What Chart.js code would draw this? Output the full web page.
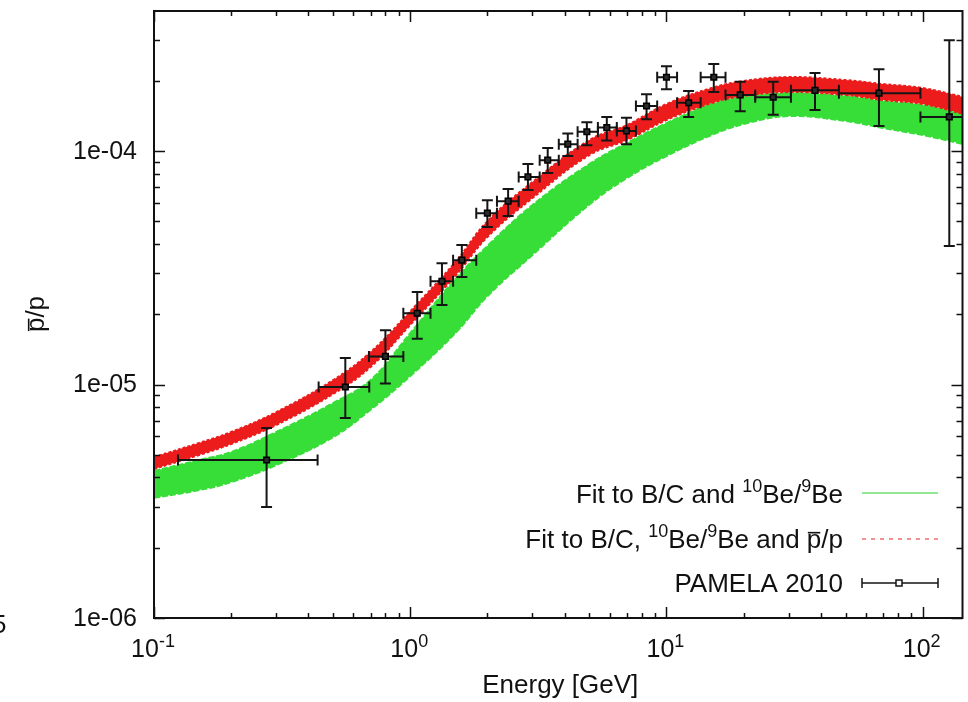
<!DOCTYPE html>
<html>
<head>
<meta charset="utf-8">
<script src="https://cdn.jsdelivr.net/npm/chart.js@4.4.1/dist/chart.umd.min.js"></script>
<style>
  html, body { margin: 0; padding: 0; background: #fff; }
  #wrap { width: 968px; height: 702px; }
</style>
</head>
<body>
<div id="wrap"><canvas id="pbarChart" width="968" height="702"></canvas></div>
<script>
// model bands (edges)
const bandEnergy = [0.1, 0.15, 0.2, 0.3, 0.5, 0.7, 1, 1.5, 2, 3, 5, 7, 10, 15, 20, 30, 50, 70, 100, 150];
const greenHi = [4.26e-6, 4.75e-6, 5.14e-6, 6.26e-6, 8.33e-6, 1.045e-5, 1.66e-5, 2.83e-5, 3.92e-5, 5.87e-5, 8.8e-5, 1.082e-4, 1.318e-4, 1.590e-4, 1.703e-4, 1.772e-4, 1.720e-4, 1.637e-4, 1.574e-4, 1.426e-4];
const greenLo = [3.27e-6, 3.53e-6, 3.82e-6, 4.52e-6, 5.95e-6, 7.8e-6, 1.087e-5, 1.66e-5, 2.39e-5, 3.59e-5, 5.9e-5, 7.66e-5, 9.52e-5, 1.171e-4, 1.305e-4, 1.412e-4, 1.345e-4, 1.255e-4, 1.171e-4, 1.061e-4];
const redHi = [4.89e-6, 5.62e-6, 6.26e-6, 7.62e-6, 1.045e-5, 1.377e-5, 2.06e-5, 3.35e-5, 5.01e-5, 7.37e-5, 1.114e-4, 1.292e-4, 1.590e-4, 1.862e-4, 1.995e-4, 2.075e-4, 2.014e-4, 1.936e-4, 1.862e-4, 1.687e-4];
const redLo = [4.35e-6, 4.99e-6, 5.56e-6, 6.71e-6, 9.11e-6, 1.188e-5, 1.80e-5, 2.92e-5, 4.28e-5, 6.29e-5, 9.61e-5, 1.114e-4, 1.358e-4, 1.605e-4, 1.720e-4, 1.789e-4, 1.737e-4, 1.653e-4, 1.590e-4, 1.426e-4];

// PAMELA 2010 points
const pamelaEnergy = [0.275, 0.558, 0.80, 1.065, 1.33, 1.59, 2.00, 2.41, 2.88, 3.44, 4.12, 4.89, 5.85, 6.98, 8.36, 10.0, 12.2, 15.3, 19.4, 26.1, 38.0, 67.5, 127];
const pamelaEnergyLo = [0.124, 0.439, 0.69, 0.94, 1.20, 1.47, 1.81, 2.18, 2.65, 3.2, 3.8, 4.5, 5.4, 6.4, 7.6, 9.2, 11.0, 13.6, 17.0, 22.2, 30.6, 47.1, 98];
const pamelaEnergyHi = [0.435, 0.692, 0.94, 1.20, 1.47, 1.81, 2.18, 2.65, 3.2, 3.8, 4.5, 5.4, 6.4, 7.6, 9.2, 11.0, 13.6, 17.0, 22.2, 30.6, 47.1, 98, 180];
const pamelaRatio = [4.75e-6, 9.76e-6, 1.32e-5, 2.02e-5, 2.77e-5, 3.41e-5, 5.42e-5, 6.10e-5, 7.75e-5, 9.14e-5, 1.07e-4, 1.21e-4, 1.26e-4, 1.22e-4, 1.56e-4, 2.07e-4, 1.61e-4, 2.07e-4, 1.74e-4, 1.70e-4, 1.82e-4, 1.77e-4, 1.40e-4];
const pamelaRatioLo = [2.99e-6, 7.19e-6, 1.01e-5, 1.57e-5, 2.19e-5, 2.89e-5, 4.73e-5, 5.27e-5, 6.81e-5, 8.05e-5, 9.53e-5, 1.06e-4, 1.11e-4, 1.07e-4, 1.37e-4, 1.84e-4, 1.40e-4, 1.79e-4, 1.48e-4, 1.43e-4, 1.50e-4, 1.28e-4, 3.92e-5];
const pamelaRatioHi = [6.52e-6, 1.30e-5, 1.71e-5, 2.49e-5, 3.31e-5, 3.96e-5, 6.16e-5, 6.88e-5, 8.80e-5, 1.03e-4, 1.19e-4, 1.33e-4, 1.40e-4, 1.39e-4, 1.75e-4, 2.31e-4, 1.81e-4, 2.36e-4, 1.98e-4, 1.98e-4, 2.16e-4, 2.24e-4, 2.98e-4];

// axis labels
const xTickValues = [0.1, 1, 10, 100];
const xTickExponents = ["-1", "0", "1", "2"];
const yTickValues = [1e-6, 1e-5, 1e-4];
const yTickLabels = ["1e-06", "1e-05", "1e-04"];

const GREEN = "rgb(55, 222, 55)";
const RED = "rgb(236, 28, 28)";
const FONT = '"Liberation Sans", Arial, Helvetica, sans-serif';

const toPoints = (xs, ys) => xs.map((e, i) => ({ x: e, y: ys[i] }));

// draw a string made of parts, some raised or with a bar over them
function richWidth(ctx, parts, size) {
  let w = 0;
  parts.forEach(p => {
    ctx.font = (p.sup ? Math.round(size * 0.7) : size) + "px " + FONT;
    w += ctx.measureText(p.t).width;
  });
  return w;
}
function drawRich(ctx, parts, x, y, size, align) {
  const w = richWidth(ctx, parts, size);
  let cx = align === "right" ? x - w : align === "center" ? x - w / 2 : x;
  ctx.textAlign = "left";
  ctx.textBaseline = "alphabetic";
  parts.forEach(p => {
    const s = p.sup ? Math.round(size * 0.7) : size;
    ctx.font = s + "px " + FONT;
    const dy = p.sup ? -size * 0.42 : 0;
    ctx.fillText(p.t, cx, y + dy);
    const tw = ctx.measureText(p.t).width;
    if (p.bar) {
      ctx.fillRect(cx + 1, y - size * 0.62, tw - 2, 1.6);
    }
    cx += tw;
  });
}

const errorBars = {
  id: "errorBars",
  beforeDatasetDraw(chart, args) {
    if (chart.data.datasets[args.index].label !== "PAMELA 2010") return;
    const { ctx, chartArea: a, scales: { x, y } } = chart;
    ctx.save();
    ctx.beginPath();
    ctx.rect(a.left, a.top, a.right - a.left, a.bottom - a.top);
    ctx.clip();
    ctx.strokeStyle = "#151515";
    ctx.lineWidth = 2;
    const cap = 5.5;
    pamelaEnergy.forEach((e, i) => {
      const px = x.getPixelForValue(e);
      const py = y.getPixelForValue(pamelaRatio[i]);
      const x0 = x.getPixelForValue(pamelaEnergyLo[i]);
      const x1 = x.getPixelForValue(pamelaEnergyHi[i]);
      const y0 = y.getPixelForValue(pamelaRatioLo[i]);
      const y1 = y.getPixelForValue(pamelaRatioHi[i]);
      ctx.beginPath();
      ctx.moveTo(x0, py); ctx.lineTo(x1, py);
      ctx.moveTo(x0, py - cap); ctx.lineTo(x0, py + cap);
      ctx.moveTo(x1, py - cap); ctx.lineTo(x1, py + cap);
      ctx.moveTo(px, y0); ctx.lineTo(px, y1);
      ctx.moveTo(px - cap, y0); ctx.lineTo(px + cap, y0);
      ctx.moveTo(px - cap, y1); ctx.lineTo(px + cap, y1);
      ctx.stroke();
    });
    ctx.restore();
  }
};

const frameAndText = {
  id: "frameAndText",
  afterDraw(chart) {
    const { ctx, chartArea: a, scales: { x, y } } = chart;
    ctx.save();
    ctx.strokeStyle = "#111";
    ctx.fillStyle = "#111";

    // ticks on all four sides, pointing in
    ctx.lineWidth = 1.5;
    ctx.beginPath();
    for (let d = -1; d <= 2; d++) {
      for (let m = 1; m <= 9; m++) {
        const v = m * Math.pow(10, d);
        if (v < x.min || v > x.max) continue;
        const px = Math.round(x.getPixelForValue(v)) + 0.5;
        const len = m === 1 ? 11 : 5;
        ctx.moveTo(px, a.bottom); ctx.lineTo(px, a.bottom - len);
        ctx.moveTo(px, a.top); ctx.lineTo(px, a.top + len);
      }
    }
    for (let d = -6; d <= -4; d++) {
      for (let m = 1; m <= 9; m++) {
        const v = m * Math.pow(10, d);
        if (v < y.min || v > y.max) continue;
        const py = Math.round(y.getPixelForValue(v)) + 0.5;
        const len = m === 1 ? 11 : 6;
        ctx.moveTo(a.left, py); ctx.lineTo(a.left + len, py);
        ctx.moveTo(a.right, py); ctx.lineTo(a.right - len, py);
      }
    }
    ctx.stroke();

    ctx.lineWidth = 2;
    ctx.strokeRect(a.left, a.top, a.right - a.left, a.bottom - a.top);

    // tick labels
    ctx.font = "25px " + FONT;
    ctx.textAlign = "right";
    ctx.textBaseline = "middle";
    yTickValues.forEach((v, i) => {
      ctx.fillText(yTickLabels[i], a.left - 17, y.getPixelForValue(v) + 1);
    });
    xTickValues.forEach((v, i) => {
      drawRich(ctx, [{ t: "10" }, { t: xTickExponents[i], sup: true }], x.getPixelForValue(v) - 1, 657, 25, "center");
    });

    // axis titles
    ctx.font = "26px " + FONT;
    drawRich(ctx, [{ t: "Energy [GeV]" }], (a.left + a.right) / 2 + 2, 693, 26, "center");
    ctx.save();
    ctx.translate(44, 314);
    ctx.rotate(-Math.PI / 2);
    drawRich(ctx, [{ t: "p", bar: true }, { t: "/p" }], 0, 0, 26, "center");
    ctx.restore();

    // cut-off character from the neighbouring figure
    ctx.font = "26px " + FONT;
    ctx.textAlign = "left";
    ctx.textBaseline = "alphabetic";
    ctx.fillText("5", -8, 633);

    // legend
    const rows = [
      { parts: [{ t: "Fit to B/C and " }, { t: "10", sup: true }, { t: "Be/" }, { t: "9", sup: true }, { t: "Be" }], base: 503, line: 493 },
      { parts: [{ t: "Fit to B/C, " }, { t: "10", sup: true }, { t: "Be/" }, { t: "9", sup: true }, { t: "Be and " }, { t: "p", bar: true }, { t: "/p" }], base: 548, line: 539 },
      { parts: [{ t: "PAMELA 2010" }], base: 592, line: 583 }
    ];
    rows.forEach(r => drawRich(ctx, r.parts, 843, r.base, 26, "right"));

    const lx0 = 862, lx1 = 938;
    ctx.lineWidth = 1.5;
    ctx.strokeStyle = "rgb(110, 225, 110)";
    ctx.beginPath(); ctx.moveTo(lx0, rows[0].line); ctx.lineTo(lx1, rows[0].line); ctx.stroke();
    ctx.strokeStyle = "rgb(240, 110, 110)";
    ctx.setLineDash([4, 5]);
    ctx.beginPath(); ctx.moveTo(lx0, rows[1].line); ctx.lineTo(lx1, rows[1].line); ctx.stroke();
    ctx.setLineDash([]);
    ctx.strokeStyle = "#151515";
    ctx.lineWidth = 1.5;
    const ly = rows[2].line;
    ctx.beginPath();
    ctx.moveTo(lx0, ly); ctx.lineTo(lx1, ly);
    ctx.moveTo(lx0, ly - 5); ctx.lineTo(lx0, ly + 5);
    ctx.moveTo(lx1, ly - 5); ctx.lineTo(lx1, ly + 5);
    ctx.stroke();
    ctx.fillStyle = "#fff";
    ctx.fillRect(896, ly - 3, 6, 6);
    ctx.strokeRect(896, ly - 3, 6, 6);
    ctx.restore();
  }
};

const bandStyle = (color, dash) => ({
  showLine: true,
  pointRadius: 0,
  borderColor: color,
  backgroundColor: color,
  borderWidth: 2,
  borderDash: dash,
  tension: 0.4
});

const ctx = document.getElementById("pbarChart").getContext("2d");
const pbarChart = new Chart(ctx, {
  type: "scatter",
  data: {
    datasets: [
      Object.assign({ label: "green upper", data: toPoints(bandEnergy, greenHi), fill: "+1", order: 2 }, bandStyle(GREEN, [6, 2])),
      Object.assign({ label: "green lower", data: toPoints(bandEnergy, greenLo), fill: false, order: 2 }, bandStyle(GREEN, [6, 2])),
      Object.assign({ label: "red upper", data: toPoints(bandEnergy, redHi), fill: "+1", order: 1 }, bandStyle(RED, [3, 2])),
      Object.assign({ label: "red lower", data: toPoints(bandEnergy, redLo), fill: false, order: 1 }, bandStyle(RED, [3, 2])),
      {
        label: "PAMELA 2010",
        data: toPoints(pamelaEnergy, pamelaRatio),
        order: 0,
        pointStyle: "rect",
        pointRadius: 4,
        backgroundColor: "#2a2a2a",
        borderColor: "#000",
        borderWidth: 1.5
      }
    ]
  },
  options: {
    responsive: false,
    animation: false,
    devicePixelRatio: 1,
    layout: { padding: { top: 11, right: 2, left: 0, bottom: 0 } },
    plugins: { legend: { display: false }, tooltip: { enabled: false } },
    scales: {
      x: {
        type: "logarithmic",
        min: 0.1,
        max: 143,
        grid: { display: false },
        border: { display: false },
        ticks: { display: false },
        afterFit(scale) { scale.height = 84; }
      },
      y: {
        type: "logarithmic",
        min: 1e-6,
        max: 3.98e-4,
        grid: { display: false },
        border: { display: false },
        ticks: { display: false },
        afterFit(scale) { scale.width = 154; }
      }
    }
  },
  plugins: [errorBars, frameAndText]
});
</script>
</body>
</html>
